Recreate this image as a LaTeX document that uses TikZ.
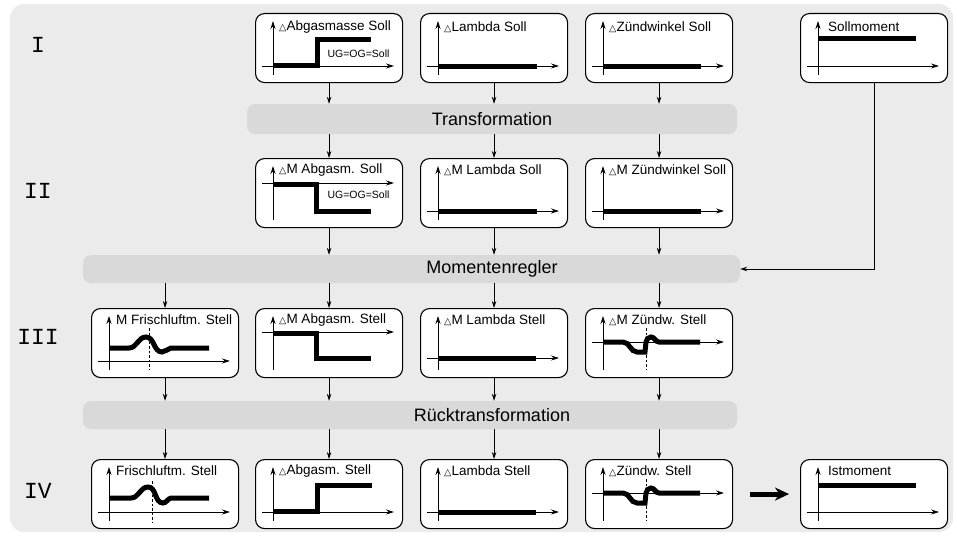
\documentclass[tikz,border=0pt]{standalone}
\usepackage{fontspec}
\setmainfont{Liberation Sans}
\newfontfamily\dejavu{DejaVu Sans}
\newfontfamily\romanfont{Liberation Mono}
\usetikzlibrary{arrows.meta,calc}
\definecolor{bgc}{HTML}{EBEBEB}
\definecolor{bandc}{HTML}{D9D9D9}
\newcommand{\tri}{{\dejavu\fontsize{9.5}{9.5}\selectfont △}}
\newcommand{\myaxes}[1]{\draw[axis] (18,62) -- (18,8); \draw[axis] (7,#1) -- (139,#1);}
\tikzset{
  gbox/.style={draw, line width=1.1pt, rounded corners=9pt, fill=white, minimum width=147pt, minimum height=69pt, inner sep=0pt, anchor=north west},
  band/.style={fill=bandc, rounded corners=8pt, inner sep=0pt},
  flow/.style={line width=0.9pt, -{Stealth[length=7pt,width=4.5pt]}},
  axis/.style={line width=0.8pt, -{Stealth[length=8pt,width=5pt]}},
  sig/.style={line width=5pt},
  dsh/.style={line width=0.8pt, dash pattern=on 2.5pt off 2pt},
  ttl/.style={anchor=west, font=\fontsize{13.5}{14}\selectfont, inner sep=0pt},
  ugtxt/.style={font=\fontsize{10.5}{11}\selectfont, inner sep=0pt},
  bandtxt/.style={font=\fontsize{18}{20}\selectfont, inner sep=0pt},
  rom/.style={font=\romanfont\fontsize{23}{23}\selectfont, inner sep=0pt},
  bigarrow/.style={line width=5pt, -{Stealth[length=14pt,width=13pt]}}
}
\begin{document}
\begin{tikzpicture}[x=1pt,y=-1pt]
\useasboundingbox (0,0) rectangle (957,535);
\fill[bgc, rounded corners=14pt] (10,4) rectangle (953,532);

% roman numerals
\node[rom] (r1) at (38,45) {I};
\node[rom] (r2) at (38,191) {II};
\node[rom] (r3) at (38,337) {III};
\node[rom] (r4) at (38,491) {IV};

% bands
\node[band, minimum width=490pt, minimum height=30pt] (T) at (492,119) {};
\node[bandtxt] (Tt) at (492,119) {Transformation};
\node[band, minimum width=657pt, minimum height=28pt] (M) at (411.5,269) {};
\node[bandtxt] (Mt) at (492,269) {Momentenregler};
\node[band, minimum width=654pt, minimum height=28pt] (R) at (410,415) {};
\node[bandtxt] (Rt) at (492,415) {Rücktransformation};

% ---------- Row I ----------
\node[gbox] (b11) at (255,13) {};
\begin{scope}[shift={(b11.north west)}]
  \myaxes{53}
  \draw[sig] (18,52) -- (62,52) -- (62,27) -- (116,27);
  \node[ugtxt] (u11) at (103.5,41) {UG=OG=Soll};
  \node[ttl] (t11) at (24,14) {\tri Abgasmasse Soll};
\end{scope}

\node[gbox] (b12) at (420,13) {};
\begin{scope}[shift={(b12.north west)}]
  \myaxes{53}
  \draw[sig] (18,53) -- (117,53);
  \node[ttl] (t12) at (24,14) {\tri Lambda Soll};
\end{scope}

\node[gbox] (b13) at (585,13) {};
\begin{scope}[shift={(b13.north west)}]
  \myaxes{53}
  \draw[sig] (18,53) -- (116,53);
  \node[ttl] (t13) at (24,14) {\tri Zündwinkel Soll};
\end{scope}

\node[gbox] (b14) at (800,13) {};
\begin{scope}[shift={(b14.north west)}]
  \myaxes{53}
  \draw[sig] (18,26) -- (116,26);
  \node[ttl] (t14) at (28,14) {Sollmoment};
\end{scope}

% ---------- Row II ----------
\node[gbox] (b21) at (255,158) {};
\begin{scope}[shift={(b21.north west)}]
  \myaxes{25}
  \draw[sig] (18,26) -- (61,26) -- (61,53) -- (116,53);
  \node[ugtxt] (u21) at (103.5,37) {UG=OG=Soll};
  \node[ttl] (t21) at (24,12) {\tri M Abgasm. Soll};
\end{scope}

\node[gbox] (b22) at (420,158) {};
\begin{scope}[shift={(b22.north west)}]
  \myaxes{53}
  \draw[sig] (18,53) -- (117,53);
  \node[ttl] (t22) at (24,12) {\tri M Lambda Soll};
\end{scope}

\node[gbox] (b23) at (585,158) {};
\begin{scope}[shift={(b23.north west)}]
  \myaxes{53}
  \draw[sig] (18,53) -- (116,53);
  \node[ttl] (t23) at (24,12) {\tri M Zündwinkel Soll};
\end{scope}

% ---------- Row III ----------
\node[gbox] (b30) at (91,308) {};
\begin{scope}[shift={(b30.north west)}]
  \myaxes{53}
  \draw[dsh] (58,20) -- (58,61);
  \draw[sig] (18,40) -- (38,40) to[out=0,in=180] (55,29) to[out=0,in=180] (71,44) to[out=0,in=190] (80,40) -- (118,40);
  \node[ttl] (t30) at (25,12) {M Frischluftm. Stell};
\end{scope}

\node[gbox] (b31) at (255,308) {};
\begin{scope}[shift={(b31.north west)}]
  \myaxes{24}
  \draw[sig] (18,25) -- (61,25) -- (61,50) -- (116,50);
  \node[ttl] (t31) at (24,12) {\tri M Abgasm. Stell};
\end{scope}

\node[gbox] (b32) at (420,308) {};
\begin{scope}[shift={(b32.north west)}]
  \myaxes{50}
  \draw[sig] (18,50) -- (116,50);
  \node[ttl] (t32) at (24,12) {\tri M Lambda Stell};
\end{scope}

\node[gbox] (b33) at (585,308) {};
\begin{scope}[shift={(b33.north west)}]
  \myaxes{34}
  \draw[dsh] (61,20) -- (61,61);
  \draw[sig] (18,34) -- (38,34) to[out=0,in=180] (52,44) -- (60,44) -- (61,34) to[out=80,in=180] (66,29) to[out=0,in=180] (74,34) -- (115,34);
  \node[ttl] (t33) at (24,12) {\tri M Zündw. Stell};
\end{scope}

% ---------- Row IV ----------
\node[gbox] (b40) at (91,459) {};
\begin{scope}[shift={(b40.north west)}]
  \myaxes{53}
  \draw[dsh] (61,22) -- (61,63);
  \draw[sig] (18,39) -- (40,39) to[out=0,in=180] (57,28) to[out=0,in=180] (72,44) to[out=0,in=190] (80,39) -- (118,39);
  \node[ttl] (t40) at (25,12) {Frischluftm. Stell};
\end{scope}

\node[gbox] (b41) at (255,459) {};
\begin{scope}[shift={(b41.north west)}]
  \myaxes{53}
  \draw[sig] (18,52) -- (62,52) -- (62,26) -- (117,26);
  \node[ttl] (t41) at (24,12) {\tri Abgasm. Stell};
\end{scope}

\node[gbox] (b42) at (420,459) {};
\begin{scope}[shift={(b42.north west)}]
  \myaxes{53}
  \draw[sig] (18,53) -- (116,53);
  \node[ttl] (t42) at (24,12) {\tri Lambda Stell};
\end{scope}

\node[gbox] (b43) at (585,459) {};
\begin{scope}[shift={(b43.north west)}]
  \myaxes{34}
  \draw[dsh] (61,20) -- (61,62);
  \draw[sig] (18,34) -- (38,34) to[out=0,in=180] (52,44) -- (60,44) -- (61,34) to[out=80,in=180] (66,29) to[out=0,in=180] (74,34) -- (115,34);
  \node[ttl] (t43) at (24,12) {\tri Zündw. Stell};
\end{scope}

\node[gbox] (b44) at (800,459) {};
\begin{scope}[shift={(b44.north west)}]
  \myaxes{53}
  \draw[sig] (18,26) -- (116,26);
  \node[ttl] (t44) at (28,12) {Istmoment};
\end{scope}

% ---------- connectors ----------
\foreach \b in {b11,b12,b13} \draw[flow] (\b.south) -- (\b.south |- T.north);
\foreach \b in {b21,b22,b23} \draw[flow] (\b.north |- T.south) -- (\b.north);
\foreach \b in {b21,b22,b23} \draw[flow] (\b.south) -- (\b.south |- M.north);
\foreach \b in {b30,b31,b32,b33} \draw[flow] (\b.north |- M.south) -- (\b.north);
\foreach \b in {b30,b31,b32,b33} \draw[flow] (\b.south) -- (\b.south |- R.north);
\foreach \b in {b40,b41,b42,b43} \draw[flow] (\b.north |- R.south) -- (\b.north);
\draw[flow] (b14.south) -- (b14.south |- M.east) -- (M.east);
\draw[bigarrow] ($(b43.east)+(17,0)$) -- ($(b44.west)+(-11,0)$);
\end{tikzpicture}
\end{document}
